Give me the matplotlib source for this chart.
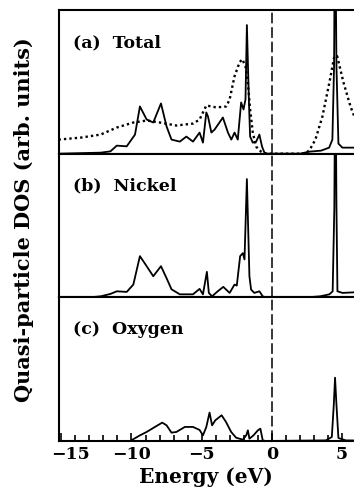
import numpy as np
import matplotlib
matplotlib.use("Agg")
import matplotlib.pyplot as plt
import matplotlib.transforms as mtransforms
from matplotlib.ticker import MultipleLocator

plt.rcParams['font.family'] = 'DejaVu Serif'
plt.rcParams['font.weight'] = 'bold'

# (a) total DOS, solid
E_tot = [-15.2, -12.2, -11.5, -11.05, -10.34, -9.75, -9.4, -8.92, -8.45, -7.9, -7.5,
         -7.15, -6.56, -6.09, -5.62, -5.15, -4.91, -4.67, -4.55, -4.31, -4.08, -3.49,
         -3.13, -2.89, -2.66, -2.43, -2.19, -2.02, -1.88, -1.78, -1.64, -1.55, -1.36,
         -1.12, -0.89, -0.70, -0.53, -0.3, 2.0, 2.67, 3.5, 4.08, 4.31, 4.43, 4.5,
         4.6, 4.74, 5.02, 5.9]
h_tot = [0, 1, 2.3, 8, 7.3, 19, 47, 34, 31, 50, 27,
         14, 12, 17, 12, 21, 11, 41, 37, 21, 24, 36,
         21, 14, 21, 14, 51, 44, 54, 128, 54, 17, 11,
         12, 19, 7, 1, 0, 0, 2, 3, 6, 14, 87, 260,
         87, 10, 6, 6]

# (a) total DOS, dotted
E_dot = [-15.2, -13.6, -12.2, -11.05, -9.87, -8.9, -7.98, -6.8, -5.6, -5.15, -4.67,
         -3.96, -3.25, -3.01, -2.66, -2.3, -2.11, -1.88, -1.71, -1.55, -1.36, -1.12,
         -0.77, -0.5, 2.4, 2.7, 3.1, 3.6, 4.1, 4.45, 4.65, 5.1, 5.6, 5.9]
h_dot = [14, 16, 19, 26, 31, 33, 31, 28, 30, 34, 48,
         46, 47, 54, 77, 91, 94, 87, 71, 44, 21, 7,
         2, 0, 0, 4, 14, 37, 71, 97, 97, 71, 47, 36]

# (b) nickel
E_ni = [-15.2, -13.0, -12.2, -11.5, -11.05, -10.34, -9.87, -9.4, -8.92, -8.45, -7.9,
        -7.5, -7.15, -6.56, -5.62, -5.15, -4.91, -4.63, -4.49, -4.26, -3.86, -3.46,
        -3.01, -2.66, -2.5, -2.26, -2.07, -1.95, -1.78, -1.6, -1.48, -1.25, -0.89,
        -0.65, -0.45, 2.5, 3.43, 4.1, 4.33, 4.45, 4.52, 4.6, 4.67, 5.03, 5.9]
h_ni = [0, 0, 1, 3.4, 6, 5.4, 12.7, 41, 31, 21, 31,
        19, 8, 3, 3, 8.4, 3, 25.4, 4.4, 1, 6, 10.4,
        4.4, 12.7, 11.7, 41, 44, 37.7, 117.7, 21, 7.7, 4.4, 6,
        1, 0, 0, 1, 3, 6, 90, 260, 90, 6, 4.4, 5]

# (c) oxygen
E_ox = [-15.2, -10.1, -9.4, -8.92, -8.33, -7.81, -7.5, -7.15, -6.8, -6.2, -5.62,
        -5.15, -4.91, -4.67, -4.44, -4.26, -4.03, -3.58, -3.27, -2.9, -2.55, -2.07,
        -1.83, -1.71, -1.6, -1.31, -1.0, -0.82, -0.65, -0.45, 3.85, 4.27, 4.41, 4.5,
        4.6, 4.74, 5.26, 5.9]
h_ox = [0, 0, 5.6, 9, 14, 18.3, 15.6, 8.3, 9, 14, 14,
        11, 5.6, 14, 28.3, 15.6, 20.6, 25.6, 19, 9, 3.3, 1.3,
        5.6, 10.6, 2.3, 5.6, 10.6, 12.3, 0.6, 0, 0.6, 4, 36, 63,
        36, 3, 0.6, 0.5]

labels = ['(a)  Total', '(b)  Nickel', '(c)  Oxygen']
xticks = [-15, -10, -5, 0, 5]

fig = plt.figure(figsize=(3.54, 4.89), dpi=100)
left, right = 58.5 / 354, 1.0
top, bottom = 1 - 11 / 489, 1 - 442 / 489
h = (top - bottom) / 3
axes = [fig.add_axes([left, top - (i + 1) * h, right - left, h]) for i in range(3)]

axes[0].plot(E_tot, h_tot, color='black', lw=1.3)
axes[0].plot(E_dot, h_dot, color='black', lw=1.7, ls=(0, (1, 1.3)))
axes[1].plot(E_ni, h_ni, color='black', lw=1.3)
axes[2].plot(E_ox, h_ox, color='black', lw=1.3)

for ax, lab in zip(axes, labels):
    ax.set_xlim(-15.2, 5.85)
    ax.set_ylim(0, 143)
    ax.axvline(0, color='black', lw=1.1, ls=(0, (7, 2.5)))
    ax.text(0.05, 0.78, lab, transform=ax.transAxes, fontsize=12.5,
            fontweight='bold', va='center', ha='left')
    ax.set_yticks([])
    for s in ['top', 'bottom', 'left']:
        ax.spines[s].set_linewidth(1.5)
    ax.spines['right'].set_visible(False)
    ax.tick_params(axis='x', bottom=False, labelbottom=False)

ax = axes[2]
ax.set_xticks(xticks)
ax.xaxis.set_minor_locator(MultipleLocator(1))
ax.tick_params(axis='x', which='both', direction='in', bottom=True, labelbottom=True,
               width=1.2, labelsize=12.5, pad=3)
ax.tick_params(axis='x', which='major', length=6)
ax.tick_params(axis='x', which='minor', length=4)
ax.set_xlabel('Energy (eV)', fontsize=14.5, fontweight='bold', labelpad=3)

# the -15 label sits a little right of its tick in the original
first = ax.get_xticklabels()[0]
first.set_transform(first.get_transform() +
                    mtransforms.ScaledTranslation(9 / 100, 0, fig.dpi_scale_trans))

fig.text(0.067, (top + bottom) / 2 + 0.015, 'Quasi-particle DOS (arb. units)',
         rotation=90, fontsize=15, fontweight='bold', ha='center', va='center')

fig.savefig('out.png', dpi=100)
